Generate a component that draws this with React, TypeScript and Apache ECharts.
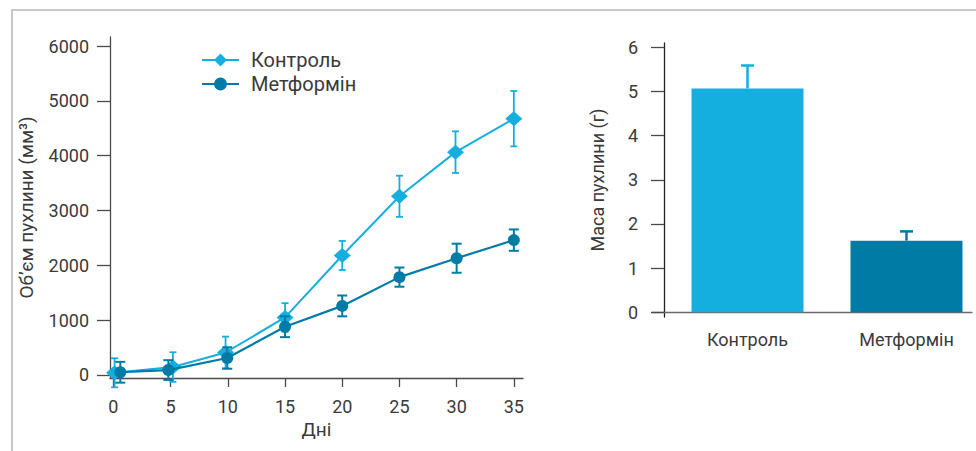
import React, { useEffect, useRef } from "react";
import * as echarts from "echarts";

const controlName = "Контроль";
const metforminName = "Метформін";

// Tumour volume (mm³) by day
const controlDays = [0.1, 5.2, 9.8, 15, 20, 25, 29.9, 35];
const controlMean = [40, 145, 410, 1050, 2180, 3260, 4065, 4675];
const controlErr = [265, 270, 290, 260, 265, 375, 380, 505];
const metforminDays = [0.6, 4.8, 9.95, 15, 20, 25, 30, 35];
const metforminMean = [50, 90, 310, 880, 1260, 1785, 2130, 2460];
const metforminErr = [190, 180, 195, 190, 190, 175, 265, 195];

const dayTicks = [0, 5, 10, 15, 20, 25, 30, 35];
const volumeTicks = [0, 1000, 2000, 3000, 4000, 5000, 6000];

// Tumour mass (g)
const massCategories = [controlName, metforminName];
const massMean = [5.07, 1.62];
const massErr = [0.52, 0.21];
const massTicks = [0, 1, 2, 3, 4, 5, 6];

const LIGHT = "#14AEDF";
const DARK = "#007BA6";
const TEXT = "#3a3a3a";
const FONT = "Roboto, 'Noto Sans', sans-serif";

function errRender(color: string, cap: number, lw: number, upperOnly: boolean) {
  return (params: any, api: any) => {
    const x = api.value(0);
    const lo = api.value(1);
    const hi = api.value(2);
    const pHi = api.coord([x, hi]);
    const pLo = api.coord([x, lo]);
    const style = { stroke: color, lineWidth: lw, fill: "none" };
    const children: any[] = [
      { type: "line", shape: { x1: pHi[0], y1: pHi[1], x2: pLo[0], y2: pLo[1] }, style },
      { type: "line", shape: { x1: pHi[0] - cap / 2, y1: pHi[1], x2: pHi[0] + cap / 2, y2: pHi[1] }, style },
    ];
    if (!upperOnly) {
      children.push({ type: "line", shape: { x1: pLo[0] - cap / 2, y1: pLo[1], x2: pLo[0] + cap / 2, y2: pLo[1] }, style });
    }
    return { type: "group", children };
  };
}

export default function App() {
  const ref = useRef<HTMLDivElement>(null);
  useEffect(() => {
    document.body.style.margin = "0";
    if (!ref.current) return;
    const chart = echarts.init(ref.current, null, { renderer: "svg" });

    const controlLine = controlDays.map((d, i) => [d, controlMean[i]]);
    const metforminLine = metforminDays.map((d, i) => [d, metforminMean[i]]);
    const controlErrData = controlDays.map((d, i) => [d, controlMean[i] - controlErr[i], controlMean[i] + controlErr[i]]);
    const metforminErrData = metforminDays.map((d, i) => [d, metforminMean[i] - metforminErr[i], metforminMean[i] + metforminErr[i]]);
    const massBarData = massCategories.map((c, i) => ({
      value: [i + 1, massMean[i]],
      itemStyle: { color: i === 0 ? LIGHT : DARK },
    }));
    const massErrData = massCategories.map((c, i) => [i + 1, massMean[i], massMean[i] + massErr[i]]);

    const labelStyle = { color: TEXT, fontFamily: FONT, fontSize: 18 };
    const plain = (v: number) => String(v);

    chart.setOption({
      animation: false,
      textStyle: { fontFamily: FONT },
      graphic: [
        {
          type: "polyline",
          shape: { points: [[12, 451], [12, 10], [976, 10]] },
          style: { stroke: "#c8c8c8", lineWidth: 2, fill: "none" },
          silent: true,
        },
      ],
      legend: {
        left: 196,
        top: 45,
        orient: "vertical",
        itemWidth: 37,
        itemHeight: 16,
        itemGap: 4,
        data: [controlName, metforminName],
        textStyle: { color: TEXT, fontFamily: FONT, fontSize: 20, padding: [0, 0, 0, 7] },
      },
      grid: [
        { left: 110, top: 37, width: 413, height: 341 },
        { left: 652, top: 43, width: 320, height: 274 },
      ],
      xAxis: [
        {
          gridIndex: 0,
          type: "value",
          min: -0.3,
          max: 35.8,
          name: "Дні",
          nameLocation: "middle",
          nameGap: 42,
          nameTextStyle: { color: TEXT, fontFamily: FONT, fontSize: 19, verticalAlign: "top" },
          axisLine: { onZero: false, lineStyle: { color: "#4a4a4a", width: 1.3 } },
          axisTick: { length: 9, customValues: dayTicks, lineStyle: { color: "#4a4a4a", width: 1.3 } },
          axisLabel: { customValues: dayTicks, margin: 19, formatter: plain, ...labelStyle },
          splitLine: { show: false },
        },
        {
          gridIndex: 1,
          type: "value",
          min: 0.3994,
          max: 2.412,
          axisLine: { onZero: true, lineStyle: { color: "#6a6a6a", width: 1.3 } },
          axisTick: { show: false },
          axisLabel: {
            customValues: [1, 2],
            formatter: (v: number) => massCategories[Math.round(v) - 1] || "",
            margin: 13,
            ...labelStyle,
          },
          splitLine: { show: false },
        },
      ],
      yAxis: [
        {
          gridIndex: 0,
          type: "value",
          min: -55,
          max: 6165,
          name: "Об’єм пухлини (мм³)",
          nameLocation: "middle",
          nameGap: 74,
          nameTextStyle: { color: TEXT, fontFamily: FONT, fontSize: 19 },
          axisLine: { show: true, onZero: false, lineStyle: { color: "#4a4a4a", width: 1.3 } },
          axisTick: { show: true, length: 13, customValues: volumeTicks, lineStyle: { color: "#4a4a4a", width: 1.3 } },
          axisLabel: { customValues: volumeTicks, margin: 21, formatter: plain, ...labelStyle },
          splitLine: { show: false },
        },
        {
          gridIndex: 1,
          type: "value",
          min: -0.11,
          max: 6.1,
          offset: -12,
          name: "Маса пухлини (г)",
          nameLocation: "middle",
          nameGap: 58,
          nameTextStyle: { color: TEXT, fontFamily: FONT, fontSize: 18 },
          axisLine: { show: true, onZero: false, lineStyle: { color: "#222", width: 1.3 } },
          axisTick: { show: true, length: 13, customValues: massTicks, lineStyle: { color: "#4a4a4a", width: 1.3 } },
          axisLabel: { customValues: massTicks, margin: 26, formatter: plain, ...labelStyle },
          splitLine: { show: false },
        },
      ],
      series: [
        {
          type: "custom",
          name: controlName + " err",
          xAxisIndex: 0,
          yAxisIndex: 0,
          renderItem: errRender(LIGHT, 7, 1.8, false),
          data: controlErrData,
          z: 2,
          silent: true,
        },
        {
          type: "line",
          name: controlName,
          xAxisIndex: 0,
          yAxisIndex: 0,
          data: controlLine,
          symbol: "diamond",
          symbolSize: [17, 15],
          lineStyle: { color: LIGHT, width: 2 },
          itemStyle: { color: LIGHT },
          z: 3,
        },
        {
          type: "custom",
          name: metforminName + " err",
          xAxisIndex: 0,
          yAxisIndex: 0,
          renderItem: errRender(DARK, 10, 2, false),
          data: metforminErrData,
          z: 4,
          silent: true,
        },
        {
          type: "line",
          name: metforminName,
          xAxisIndex: 0,
          yAxisIndex: 0,
          data: metforminLine,
          symbol: "circle",
          symbolSize: 12,
          lineStyle: { color: DARK, width: 2.2 },
          itemStyle: { color: DARK },
          z: 5,
        },
        {
          type: "custom",
          name: "mass err",
          xAxisIndex: 1,
          yAxisIndex: 1,
          renderItem: (params: any, api: any) =>
            errRender(params.dataIndex === 0 ? LIGHT : DARK, 13, 2.5, true)(params, api),
          data: massErrData,
          z: 1,
          silent: true,
        },
        {
          type: "bar",
          name: "mass",
          xAxisIndex: 1,
          yAxisIndex: 1,
          barWidth: 112,
          data: massBarData,
          z: 2,
        },
      ],
    });
    return () => chart.dispose();
  }, []);
  return <div ref={ref} style={{ width: 976, height: 451, background: "#fff" }} />;
}
